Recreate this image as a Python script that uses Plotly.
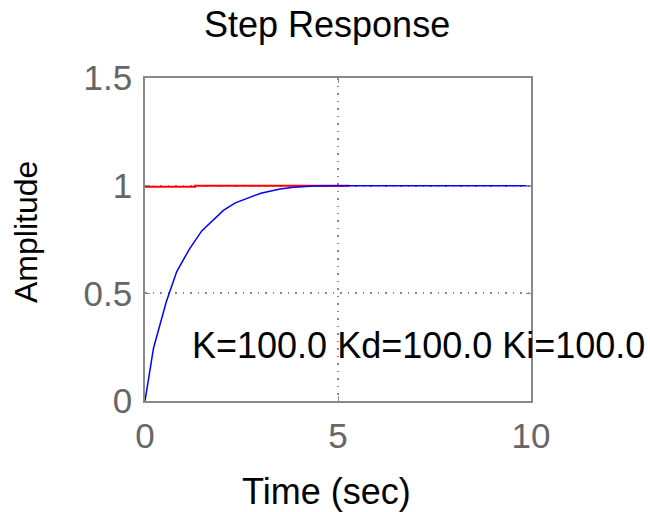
import plotly.graph_objects as go

# Step response samples
time_s = [0, 0.22, 0.55, 0.82, 1.04, 1.15, 1.47, 2.03, 2.34, 3.0, 3.5, 3.85, 4.4, 5.3, 10]
amplitude = [0, 0.245, 0.46, 0.60, 0.67, 0.705, 0.79, 0.885, 0.92, 0.965, 0.985, 0.993, 0.998, 1.0, 1.0]

# Reference (red) line
ref_time = [0, 1.3, 1.3, 5.3]
ref_amp = [0.995, 0.995, 1.0, 1.0]

x_ticks = [0, 5, 10]
y_ticks = [0, 0.5, 1, 1.5]
y_tick_text = ["0", "0.5", "1", "1.5"]

title_text = "Step Response"
x_title = "Time (sec)"
y_title = "Amplitude"
note_text = "K=100.0 Kd=100.0 Ki=100.0"

W, H = 650, 512
L, R, T, B = 145, 119, 78, 111
PW, PH = W - L - R, H - T - B

fig = go.Figure()
fig.add_trace(go.Scatter(x=ref_time, y=ref_amp, mode="lines",
                         line=dict(color="#ff0000", width=2), showlegend=False))
fig.add_trace(go.Scatter(x=time_s, y=amplitude, mode="lines",
                         line=dict(color="#0000ff", width=1.5), showlegend=False))

FONT = "Liberation Sans, Arial, sans-serif"
axis_common = dict(
    showline=True, mirror="ticks", linecolor="#888888", linewidth=1.5,
    ticks="inside", ticklen=5, tickcolor="#888888",
    showgrid=True, gridcolor="#888888", griddash="1.5px,6px", gridwidth=1.5,
    zeroline=False,
    tickfont=dict(family=FONT, size=35, color="#666666"),
)

fig.update_xaxes(range=[0, 10], tickvals=x_ticks, ticklabelstandoff=3, **axis_common)
fig.update_yaxes(range=[0, 1.5], tickvals=y_ticks, ticktext=y_tick_text,
                 ticklabelstandoff=4, **axis_common)

annotations = [
    dict(text=title_text, xref="paper", yref="paper", x=(326.5 - L) / PW,
         y=1 + (T - 24) / PH, xanchor="center", yanchor="middle",
         showarrow=False, font=dict(family=FONT, size=36, color="#000000")),
    dict(text=x_title, xref="paper", yref="paper", x=(326 - L) / PW,
         y=-(491 - (H - B)) / PH, xanchor="center", yanchor="middle",
         showarrow=False, font=dict(family=FONT, size=36, color="#000000")),
    dict(text=y_title, xref="paper", yref="paper", x=-(L - 26) / PW,
         y=(H - B - 232) / PH, xanchor="center", yanchor="middle",
         textangle=-90, showarrow=False,
         font=dict(family=FONT, size=32, color="#000000")),
    dict(text=note_text, xref="x", yref="y", x=1.17, y=0.258,
         xanchor="left", yanchor="middle", showarrow=False,
         font=dict(family=FONT, size=36, color="#000000")),
]

fig.update_layout(
    width=W, height=H,
    margin=dict(l=L, r=R, t=T, b=B, pad=0),
    paper_bgcolor="white", plot_bgcolor="white",
    annotations=annotations,
    showlegend=False,
)

fig.write_html("out.html", config={"displayModeBar": False},
               post_script="document.body.style.margin='0';document.body.style.overflow='hidden';")
